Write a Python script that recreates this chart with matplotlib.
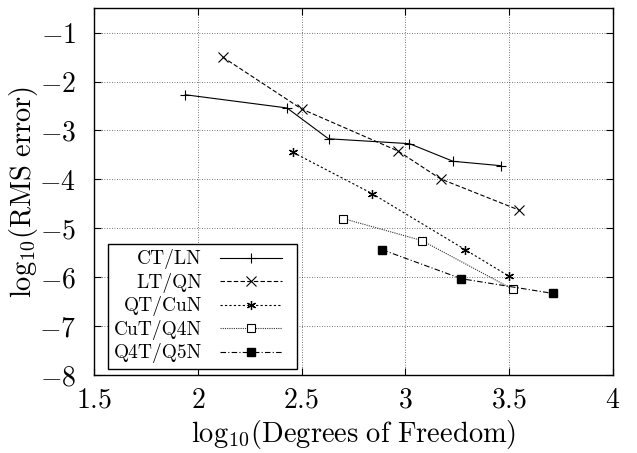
import matplotlib
matplotlib.use("Agg")
import matplotlib.pyplot as plt

plt.rcParams['font.family'] = 'serif'
plt.rcParams['font.serif'] = ['cmr10']
plt.rcParams['mathtext.fontset'] = 'cm'
plt.rcParams['axes.formatter.use_mathtext'] = True

# log10 degrees of freedom / log10 RMS error per element pair
ct_x = [1.94, 2.43, 2.63, 3.02, 3.23, 3.46]
ct_y = [-2.27, -2.54, -3.17, -3.27, -3.63, -3.72]

lt_x = [2.12, 2.50, 2.965, 3.17, 3.55]
lt_y = [-1.50, -2.56, -3.42, -3.99, -4.63]

qt_x = [2.46, 2.84, 3.29, 3.50]
qt_y = [-3.45, -4.29, -5.44, -5.98]

cut_x = [2.70, 3.08, 3.52]
cut_y = [-4.80, -5.25, -6.25]

q4t_x = [2.89, 3.27, 3.71]
q4t_y = [-5.44, -6.03, -6.33]

labels = ["CT/LN", "LT/QN", "QT/CuN", "CuT/Q4N", "Q4T/Q5N"]

fig = plt.figure(figsize=(6.37, 4.53), dpi=100)
ax = fig.add_axes([0.1476, 0.172, 0.8144, 0.81])

lw = 0.8
ax.plot(ct_x, ct_y, color="black", linestyle="-", linewidth=lw, marker="+", markersize=7, markeredgewidth=0.8, label=labels[0])
ax.plot(lt_x, lt_y, color="black", linestyle=(0, (4, 2)), linewidth=lw, marker="x", markersize=6.5, markeredgewidth=0.8, label=labels[1])
ax.plot(qt_x, qt_y, color="black", linestyle=(0, (2, 2)), linewidth=lw, marker=(6, 2, 0), markersize=6.5, markeredgewidth=0.9, label=labels[2])
ax.plot(cut_x, cut_y, color="#333333", linestyle=(0, (1, 1)), linewidth=lw, marker="s", markersize=5.5, markerfacecolor="white", markeredgecolor="black", markeredgewidth=0.8, label=labels[3])
ax.plot(q4t_x, q4t_y, color="black", linestyle=(0, (5, 2, 1, 2)), linewidth=lw, marker="s", markersize=5.5, markerfacecolor="black", label=labels[4])

ax.set_xlim(1.5, 4)
ax.set_ylim(-8, -0.5)
ax.set_xticks([1.5, 2, 2.5, 3, 3.5, 4])
ax.set_xticklabels(["$1.5$", "$2$", "$2.5$", "$3$", "$3.5$", "$4$"])
ax.set_yticks([-8, -7, -6, -5, -4, -3, -2, -1])
ax.grid(True, color="black", linestyle=(0, (1, 2)), linewidth=0.6, alpha=0.7)
ax.tick_params(direction="in", top=True, right=True, labelsize=20, length=5, width=0.8)
ax.tick_params(axis="x", pad=9)
ax.tick_params(axis="y", pad=13)
for s in ax.spines.values():
    s.set_linewidth(1.0)

ax.set_xlabel(r"$\mathrm{log}_{10}(\mathrm{Degrees\ of\ Freedom})$", fontsize=20.5, labelpad=3)
ax.set_ylabel(r"$\mathrm{log}_{10}(\mathrm{RMS\ error})$", fontsize=20.5, labelpad=-1)

leg = ax.legend(loc="lower left", bbox_to_anchor=(0.027, 0.016, 0.364, 0.33), mode="expand",
                markerfirst=False, prop={"family": "serif", "size": 14}, handlelength=3.2,
                handletextpad=0.9, labelspacing=0.18, borderpad=0.3, borderaxespad=0,
                fancybox=False, framealpha=1, edgecolor="black")
leg.get_frame().set_linewidth(1.0)
for t in leg.get_texts():
    t.set_ha("right")

fig.savefig("out.png", dpi=100)
